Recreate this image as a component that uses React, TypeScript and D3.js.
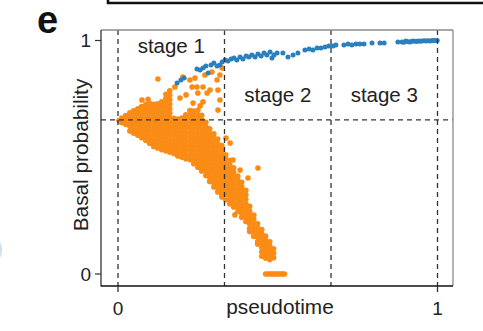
import React from 'react';
import * as d3 from 'd3';

const W = 483;
const H = 331;

const xTicks = [0, 1];
const yTicks = [0, 1];
const stageBounds = [0, 1 / 3, 2 / 3, 1];
const stageNames = ['stage 1', 'stage 2', 'stage 3'];
const basalThreshold = 0.66;
const xTitle = 'pseudotime';
const yTitle = 'Basal probability';
const panelLetter = 'e';

// basal-like cells (blue): [pseudotime, probability]
const basalCells: [number, number][] = [
  [0.185, 0.818], [0.197, 0.831], [0.207, 0.839], [0.247, 0.878], [0.257, 0.874],
  [0.266, 0.882], [0.275, 0.891], [0.282, 0.861], [0.291, 0.895], [0.300, 0.904],
  [0.310, 0.891], [0.319, 0.895], [0.326, 0.908], [0.335, 0.916], [0.344, 0.912],
  [0.354, 0.921], [0.363, 0.925], [0.372, 0.916], [0.382, 0.929], [0.391, 0.921],
  [0.401, 0.934], [0.410, 0.929], [0.419, 0.938], [0.429, 0.929], [0.438, 0.942],
  [0.448, 0.934], [0.457, 0.946], [0.466, 0.938], [0.476, 0.951], [0.482, 0.925],
  [0.488, 0.938], [0.498, 0.946], [0.516, 0.946], [0.532, 0.929], [0.548, 0.938],
  [0.563, 0.946], [0.585, 0.959], [0.598, 0.964], [0.610, 0.959], [0.623, 0.968],
  [0.635, 0.968], [0.648, 0.972], [0.660, 0.976], [0.673, 0.976], [0.682, 0.981],
  [0.707, 0.981], [0.720, 0.985], [0.732, 0.981], [0.745, 0.985], [0.757, 0.985],
  [0.770, 0.985], [0.795, 0.989], [0.820, 0.989], [0.833, 0.989], [0.876, 0.994],
  [0.889, 0.994], [0.895, 0.992], [0.901, 0.998], [0.908, 0.995], [0.914, 0.994],
  [0.920, 0.997], [0.926, 0.998], [0.933, 0.996], [0.939, 0.998], [0.945, 0.997],
  [0.951, 0.998], [0.958, 0.999], [0.964, 0.998], [0.970, 0.999], [0.977, 0.998],
  [0.983, 1.0], [0.989, 1.0], [0.995, 1.0], [0.999, 1.0],
];

// luminal-like cells (orange), read column by column: [pseudotime, probabilities]
const luminalColumns: [number, number[]][] = [
  [0.003, [0.657]],
  [0.012, [0.668, 0.648]],
  [0.024, [0.679, 0.660, 0.641]],
  [0.037, [0.690, 0.672, 0.652, 0.633, 0.612]],
  [0.049, [0.699, 0.680, 0.661, 0.642, 0.622, 0.603]],
  [0.062, [0.707, 0.689, 0.670, 0.650, 0.631, 0.613, 0.594]],
  [0.074, [0.717, 0.698, 0.679, 0.660, 0.641, 0.621, 0.602, 0.584]],
  [0.087, [0.726, 0.706, 0.688, 0.668, 0.649, 0.630, 0.611, 0.592, 0.572]],
  [0.099, [0.731, 0.712, 0.693, 0.673, 0.655, 0.636, 0.616, 0.597, 0.578, 0.560]],
  [0.112, [0.727, 0.708, 0.689, 0.670, 0.651, 0.632, 0.613, 0.594, 0.575, 0.557, 0.545]],
  [0.124, [0.729, 0.710, 0.690, 0.671, 0.652, 0.634, 0.614, 0.595, 0.577, 0.557, 0.540]],
  [0.137, [0.738, 0.719, 0.700, 0.681, 0.662, 0.643, 0.624, 0.605, 0.586, 0.567, 0.548, 0.532]],
  [0.150, [0.770, 0.752, 0.733, 0.714, 0.695, 0.676, 0.657, 0.638, 0.619, 0.600, 0.581, 0.562, 0.543, 0.527]],
  [0.162, [0.785, 0.765, 0.746, 0.727, 0.708, 0.689, 0.670, 0.651, 0.632, 0.613, 0.594, 0.575, 0.556, 0.537, 0.522]],
  [0.175, [0.667, 0.648, 0.629, 0.610, 0.591, 0.572, 0.553, 0.534, 0.516]],
  [0.187, [0.664, 0.645, 0.626, 0.607, 0.588, 0.569, 0.550, 0.531, 0.512, 0.505]],
  [0.200, [0.668, 0.649, 0.630, 0.611, 0.592, 0.573, 0.554, 0.535, 0.516, 0.500]],
  [0.212, [0.682, 0.663, 0.644, 0.625, 0.606, 0.587, 0.568, 0.549, 0.530, 0.511, 0.494]],
  [0.225, [0.700, 0.681, 0.662, 0.643, 0.624, 0.605, 0.586, 0.567, 0.548, 0.529, 0.510, 0.490]],
  [0.237, [0.698, 0.679, 0.660, 0.641, 0.622, 0.603, 0.584, 0.565, 0.546, 0.527, 0.508, 0.489, 0.472]],
  [0.250, [0.701, 0.682, 0.663, 0.644, 0.625, 0.606, 0.587, 0.568, 0.549, 0.530, 0.511, 0.492, 0.473, 0.457]],
  [0.262, [0.680, 0.661, 0.642, 0.623, 0.604, 0.585, 0.566, 0.547, 0.528, 0.509, 0.490, 0.471, 0.452, 0.441]],
  [0.275, [0.650, 0.631, 0.612, 0.593, 0.574, 0.555, 0.536, 0.517, 0.498, 0.479, 0.460, 0.441, 0.422]],
  [0.287, [0.622, 0.603, 0.584, 0.565, 0.546, 0.527, 0.508, 0.489, 0.470, 0.451, 0.432, 0.413, 0.396]],
  [0.300, [0.600, 0.581, 0.562, 0.543, 0.524, 0.505, 0.486, 0.467, 0.448, 0.429, 0.410, 0.391, 0.373]],
  [0.312, [0.578, 0.559, 0.540, 0.521, 0.502, 0.483, 0.464, 0.445, 0.426, 0.407, 0.388, 0.369, 0.351]],
  [0.325, [0.550, 0.531, 0.512, 0.493, 0.474, 0.455, 0.436, 0.417, 0.398, 0.379, 0.360, 0.341, 0.330]],
  [0.337, [0.510, 0.491, 0.472, 0.453, 0.434, 0.415, 0.396, 0.377, 0.358, 0.339, 0.318]],
  [0.350, [0.487, 0.468, 0.449, 0.430, 0.411, 0.392, 0.373, 0.354, 0.335, 0.316, 0.301]],
  [0.362, [0.455, 0.436, 0.417, 0.398, 0.379, 0.360, 0.341, 0.322, 0.303, 0.287]],
  [0.375, [0.420, 0.401, 0.382, 0.363, 0.344, 0.325, 0.306, 0.287, 0.268]],
  [0.387, [0.393, 0.374, 0.355, 0.336, 0.317, 0.298, 0.279, 0.260, 0.243]],
  [0.400, [0.358, 0.339, 0.320, 0.301, 0.282, 0.263, 0.244, 0.225]],
  [0.412, [0.290, 0.271, 0.252, 0.233, 0.214, 0.195, 0.182]],
  [0.425, [0.252, 0.233, 0.214, 0.195, 0.176, 0.161]],
  [0.437, [0.215, 0.196, 0.177, 0.158, 0.139, 0.128]],
  [0.450, [0.190, 0.171, 0.152, 0.133, 0.114, 0.095, 0.076]],
  [0.462, [0.163, 0.144, 0.125, 0.106, 0.087, 0.068]],
  [0.475, [0.138, 0.119, 0.100, 0.081, 0.062]],
  [0.487, [0.108, 0.089, 0.070]],
];

// scattered luminal-like cells outside the dense cloud
const luminalScatter: [number, number][] = [
  [0.075, 0.745], [0.094, 0.748], [0.125, 0.835], [0.178, 0.801], [0.194, 0.754],
  [0.203, 0.844], [0.213, 0.767], [0.225, 0.831], [0.232, 0.801], [0.235, 0.732],
  [0.241, 0.839], [0.247, 0.801], [0.250, 0.775], [0.257, 0.720], [0.266, 0.801],
  [0.266, 0.737], [0.272, 0.852], [0.279, 0.775], [0.288, 0.788], [0.294, 0.865],
  [0.310, 0.831], [0.313, 0.788], [0.313, 0.702], [0.319, 0.852], [0.319, 0.745],
  [0.326, 0.882], [0.338, 0.582], [0.351, 0.561], [0.360, 0.488], [0.382, 0.445],
  [0.407, 0.411], [0.438, 0.454], [0.366, 0.253],
  [0.462, 0], [0.468, 0], [0.474, 0], [0.480, 0], [0.486, 0], [0.492, 0],
  [0.498, 0], [0.504, 0], [0.510, 0], [0.516, 0], [0.521, 0],
];

const ORANGE = '#fa8c16';
const BLUE = '#2a80bf';
const FONT = '"Liberation Sans", Arial, Helvetica, sans-serif';

export default function App() {
  const x = d3.scaleLinear().domain([0, 1]).range([118, 437.5]);
  const y = d3.scaleLinear().domain([0, 1]).range([274, 40.5]);
  const frame = { left: 101, right: 453, top: 30, bottom: 286 };

  const luminal: [number, number][] = [
    ...luminalColumns.flatMap(([px, ys]) => ys.map((py) => [px, py] as [number, number])),
    ...luminalScatter,
  ];

  return (
    <svg
      width={W}
      height={H}
      viewBox={`0 0 ${W} ${H}`}
      style={{ position: 'absolute', left: 0, top: 0, background: '#fff' }}
      fontFamily={FONT}
    >
      <rect x={0} y={0} width={W} height={H} fill="#fff" />
      {/* piece of the neighbouring panel above */}
      <path d={`M108,0 V3 H${W}`} fill="none" stroke="#111" strokeWidth={2.6} />
      <ellipse cx={-1} cy={250} rx={3} ry={8} fill="#cfe2f2" />

      <text x={37} y={33} fontSize={38} fontWeight="bold" fill="#111">{panelLetter}</text>

      {/* points */}
      <g>
        {luminal.map(([a, b], i) => (
          <circle key={`o${i}`} cx={x(a)} cy={y(b)} r={2.8} fill={ORANGE} />
        ))}
      </g>
      <g>
        {basalCells.map(([a, b], i) => (
          <circle key={`b${i}`} cx={x(a)} cy={y(b)} r={2.5} fill={BLUE} />
        ))}
      </g>

      {/* dashed guides */}
      <g stroke="#333" strokeWidth={1.3} strokeDasharray="5,4" fill="none">
        {stageBounds.map((s, i) => (
          <line key={i} x1={x(s)} x2={x(s)} y1={frame.top} y2={frame.bottom} />
        ))}
        <line x1={frame.left} x2={frame.right} y1={y(basalThreshold)} y2={y(basalThreshold)} />
      </g>

      {/* frame */}
      <line x1={frame.left} x2={frame.right} y1={frame.top} y2={frame.top} stroke="#8a8a8a" strokeWidth={1.3} />
      <line x1={frame.right} x2={frame.right} y1={frame.top} y2={frame.bottom} stroke="#8a8a8a" strokeWidth={1.3} />
      <line x1={frame.left} x2={frame.left} y1={frame.top} y2={frame.bottom + 0.6} stroke="#333" strokeWidth={1.3} />
      <line x1={frame.left} x2={frame.right} y1={frame.bottom} y2={frame.bottom} stroke="#111" strokeWidth={1.5} />

      {/* y ticks */}
      {yTicks.map((t) => (
        <g key={`yt${t}`}>
          <line x1={95} x2={frame.left} y1={y(t)} y2={y(t)} stroke="#333" strokeWidth={1.2} />
          <text x={91} y={y(t)} dy="0.35em" textAnchor="end" fontSize={19} fill="#222">{t}</text>
        </g>
      ))}
      {/* x ticks */}
      {xTicks.map((t) => (
        <g key={`xt${t}`}>
          <line x1={x(t)} x2={x(t)} y1={frame.bottom} y2={frame.bottom + 6} stroke="#333" strokeWidth={1.3} />
          <text x={x(t)} y={315} textAnchor="middle" fontSize={19} fill="#222">{t}</text>
        </g>
      ))}

      {/* stage labels */}
      {stageNames.map((name, i) => (
        <text
          key={name}
          x={x((stageBounds[i] + stageBounds[i + 1]) / 2)}
          y={i === 0 ? 53 : 102}
          textAnchor="middle"
          fontSize={20.5}
          fill="#222"
        >
          {name}
        </text>
      ))}

      {/* axis titles */}
      <text x={280} y={314} textAnchor="middle" fontSize={20.8} fill="#222">{xTitle}</text>
      <text
        transform="translate(88,155) rotate(-90)"
        textAnchor="middle"
        fontSize={20.8}
        fill="#222"
      >
        {yTitle}
      </text>
    </svg>
  );
}
